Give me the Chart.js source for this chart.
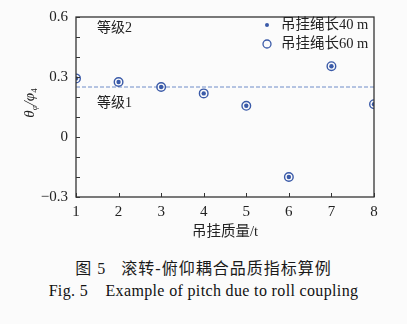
<!DOCTYPE html>
<html><head><meta charset="utf-8">
<script src="https://cdn.jsdelivr.net/npm/chart.js@4/dist/chart.umd.min.js"></script>
<style>
html,body{margin:0;padding:0;background:#fbfbfb;width:407px;height:324px;overflow:hidden;}
#wrap{position:absolute;left:0;top:0;width:407px;height:245px;}
.cap{position:absolute;left:0;width:407px;text-align:center;color:#1a1a1a;white-space:pre;}
#c1{top:255px;font-family:"Liberation Serif","Noto Sans CJK SC";font-size:16px;letter-spacing:1px;}
#c2{top:282px;font-family:"Liberation Serif";font-size:16px;letter-spacing:0.35px;color:#111;}
</style></head>
<body>
<div id="wrap"><canvas id="c" width="407" height="245"></canvas></div>
<div id="c1" class="cap">图 5   滚转-俯仰耦合品质指标算例</div>
<div id="c2" class="cap">Fig. 5    Example of pitch due to roll coupling</div>
<script>
const categories = [1, 2, 3, 4, 5, 6, 7, 8];
const series40 = [0.293, 0.275, 0.25, 0.218, 0.156, -0.20, 0.354, 0.164];
const series60 = [0.293, 0.275, 0.25, 0.218, 0.156, -0.20, 0.354, 0.164];
const threshold = 0.25;
const yTickLabels = ['-0.3', '0', '0.3', '0.6'];
const legendLabels = ['吊挂绳长40 m', '吊挂绳长60 m'];
const levelLabels = ['等级2', '等级1'];
const xTitle = '吊挂质量/t';

const BLUE = '#3a5aa8';
const AXIS = '#333';
const FONT = '"Liberation Serif","Noto Sans CJK SC"';

const extras = {
  id: 'extras',
  afterDraw(chart) {
    const ctx = chart.ctx, a = chart.chartArea;
    const xs = chart.scales.x, ys = chart.scales.y;
    ctx.save();
    ctx.strokeStyle = AXIS; ctx.lineWidth = 1.3;
    ctx.strokeRect(a.left, a.top, a.right - a.left, a.bottom - a.top);
    ctx.lineWidth = 1;
    for (let v = -0.3; v <= 0.6001; v += 0.1) {
      const py = Math.round(ys.getPixelForValue(v)) + 0.5;
      ctx.beginPath(); ctx.moveTo(a.left, py); ctx.lineTo(a.left + 4, py); ctx.stroke();
    }
    categories.forEach(c => {
      const px = Math.round(xs.getPixelForValue(c)) + 0.5;
      ctx.beginPath(); ctx.moveTo(px, a.bottom); ctx.lineTo(px, a.bottom - 4); ctx.stroke();
    });
    ctx.fillStyle = '#222';
    ctx.font = '14px ' + FONT;
    ctx.textBaseline = 'middle'; ctx.textAlign = 'left';
    ctx.fillText(levelLabels[0], a.left + 21, ys.getPixelForValue(0.542));
    ctx.fillText(levelLabels[1], a.left + 21, ys.getPixelForValue(0.17));
    const lx = 267, ly = [25, 44];
    ctx.fillStyle = BLUE;
    ctx.beginPath(); ctx.arc(lx, ly[0], 2, 0, Math.PI * 2); ctx.fill();
    ctx.strokeStyle = BLUE; ctx.lineWidth = 1.3;
    ctx.beginPath(); ctx.arc(lx, ly[1], 4, 0, Math.PI * 2); ctx.stroke();
    ctx.fillStyle = '#222';
    ctx.font = '14.5px ' + FONT;
    ctx.fillText(legendLabels[0], 281, ly[0]);
    ctx.fillText(legendLabels[1], 281, ly[1]);
    ctx.save();
    ctx.translate(30, 103);
    ctx.rotate(-Math.PI / 2);
    const p1 = 'θ', p2 = 'φ', p3 = '/φ', p4 = '4';
    ctx.font = 'italic 15px "Liberation Serif"'; const w1 = ctx.measureText(p1).width;
    ctx.font = 'italic 9px "Liberation Serif"'; const w2 = ctx.measureText(p2).width;
    ctx.font = 'italic 15px "Liberation Serif"'; const w3 = ctx.measureText(p3).width;
    ctx.font = '9px "Liberation Serif"'; const w4 = ctx.measureText(p4).width;
    let x0 = -(w1 + w2 + w3 + w4) / 2;
    ctx.textAlign = 'left';
    ctx.font = 'italic 15px "Liberation Serif"'; ctx.fillText(p1, x0, 0); x0 += w1;
    ctx.font = 'italic 9px "Liberation Serif"'; ctx.fillText(p2, x0, 5); x0 += w2;
    ctx.font = 'italic 15px "Liberation Serif"'; ctx.fillText(p3, x0, 0); x0 += w3;
    ctx.font = '9px "Liberation Serif"'; ctx.fillText(p4, x0, 5);
    ctx.restore();
    ctx.restore();
  }
};

new Chart(document.getElementById('c'), {
  type: 'scatter',
  data: {
    datasets: [
      { label: legendLabels[0], data: categories.map((c, i) => ({x: c, y: series40[i]})),
        pointRadius: 2.2, pointBackgroundColor: BLUE, pointBorderWidth: 0, showLine: false, order: 1 },
      { label: legendLabels[1], data: categories.map((c, i) => ({x: c, y: series60[i]})),
        pointRadius: 4.3, pointBackgroundColor: 'rgba(0,0,0,0)', pointBorderColor: BLUE, pointBorderWidth: 1.4, showLine: false, order: 2 },
      { label: 'threshold', data: [{x: categories[0], y: threshold}, {x: categories[categories.length - 1], y: threshold}],
        showLine: true, pointRadius: 0, borderColor: '#6f8cc8', borderWidth: 1, borderDash: [4, 2], order: 3 }
    ]
  },
  options: {
    responsive: false, animation: false, devicePixelRatio: 1,
    layout: { padding: { left: 0, top: 14, right: 33, bottom: 0 } },
    plugins: { legend: { display: false }, tooltip: { enabled: false } },
    scales: {
      x: {
        type: 'linear', min: 1, max: 8,
        afterFit(s) { s.height = 48; },
        afterBuildTicks(s) { s.ticks = categories.map(v => ({value: v})); },
        grid: { display: false, drawTicks: false },
        border: { display: false },
        ticks: { color: '#222', font: { family: FONT, size: 15 }, padding: 6, maxRotation: 0,
                 callback: v => String(v) },
        title: { display: true, text: xTitle, color: '#222', font: { family: FONT, size: 14.5 }, padding: { top: 2 } }
      },
      y: {
        min: -0.3, max: 0.6,
        afterFit(s) { s.width = 76; },
        afterBuildTicks(s) { s.ticks = yTickLabels.map(t => ({value: parseFloat(t)})); },
        grid: { display: false, drawTicks: false },
        border: { display: false },
        ticks: { color: '#222', font: { family: FONT, size: 15 }, padding: 8,
                 callback: (v) => { const i = yTickLabels.findIndex(t => Math.abs(parseFloat(t) - v) < 1e-6); return i >= 0 ? yTickLabels[i].replace('-', '\u2212') : ''; } }
      }
    }
  },
  plugins: [extras]
});
</script>
</body></html>
